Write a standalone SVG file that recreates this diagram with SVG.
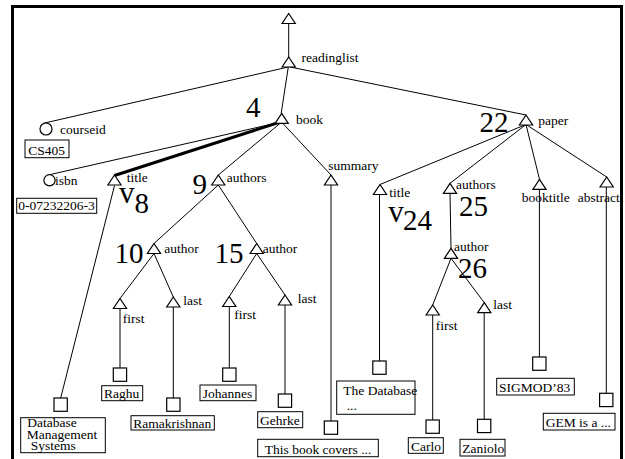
<svg xmlns="http://www.w3.org/2000/svg" xmlns:xlink="http://www.w3.org/1999/xlink" width="625" height="459" viewBox="0 0 625 459" font-family="'Liberation Serif', 'DejaVu Serif', serif">
<style>
text{font-family:'Liberation Serif','DejaVu Serif',serif;fill:#000}
.lb{font-size:13.5px}
.big{font-size:29px}
.v{font-size:31px}
.ln{stroke:#000;stroke-width:1;fill:none}
.thick{stroke:#000;stroke-width:3;fill:none}
.shape{fill:#fff;stroke:#000;stroke-width:1.2}
.box{fill:#fff;stroke:#000;stroke-width:1}
</style>
<defs>
<path id="tri" class="shape" d="M0,0 L6.6,10 L-6.6,10 Z"/>
<rect id="sq" class="shape" width="13.3" height="13.3"/>
</defs>
<rect x="0" y="0" width="625" height="459" fill="#fff"/>
<path d="M12.5,459 V6.5 H621.5 V459" fill="none" stroke="#000" stroke-width="3"/>

<g id="connectors">
<path class="ln" d="M288.7,23.5 V57"/>
<path class="ln" d="M288.3,67 L43.3,123.3"/>
<path class="ln" d="M288.3,67 L281.2,113.3"/>
<path class="ln" d="M290,67 L526,115"/>
<path class="ln" d="M279,122.5 L50,174.6"/>
<path class="thick" d="M281,121.8 L114.5,175.5"/>
<path class="ln" d="M280.5,123 L218.3,175"/>
<path class="ln" d="M282.5,123 L331,175"/>
<path class="ln" d="M526,124.5 L380,184.5"/>
<path class="ln" d="M526,124.5 L450,183.3"/>
<path class="ln" d="M526,124.5 L539.5,179.3"/>
<path class="ln" d="M526,124.5 L606.7,177"/>
<path class="ln" d="M218.3,185 L154,243.5"/>
<path class="ln" d="M218.3,185 L256.7,243.5"/>
<path class="ln" d="M154,253.5 L120,298.5"/>
<path class="ln" d="M154,253.5 L173.3,297"/>
<path class="ln" d="M256.7,253.5 L229.3,296.5"/>
<path class="ln" d="M256.7,253.5 L285,295"/>
<path class="ln" d="M450,193.3 L451,248.3"/>
<path class="ln" d="M451,258.3 L432.7,305"/>
<path class="ln" d="M451,258.3 L484.3,302.7"/>
<path class="ln" d="M114.5,185.5 L60.7,398"/>
<path class="ln" d="M120,308.5 V368"/>
<path class="ln" d="M173.3,307 V398"/>
<path class="ln" d="M229.3,306.5 V368"/>
<path class="ln" d="M285,305 V394"/>
<path class="ln" d="M331,185 V421"/>
<path class="ln" d="M379.5,194.5 V361"/>
<path class="ln" d="M432.7,315 V420"/>
<path class="ln" d="M484.2,312.7 V419.3"/>
<path class="ln" d="M539.4,189.3 V357"/>
<path class="ln" d="M606.3,187 V393.3"/>
</g>

<g id="root"><use xlink:href="#tri" x="288.7" y="13.5"/></g>
<g id="readinglist"><use xlink:href="#tri" x="288.7" y="57"/><text class="lb" x="301.5" y="61.7">readinglist</text></g>
<g id="courseid"><circle class="shape" cx="46" cy="129" r="6"/><text class="lb" x="60" y="134">courseid</text></g>
<g id="cs405"><rect class="box" x="25" y="140" width="44" height="17.7"/><text class="lb" x="28.3" y="155">CS405</text></g>
<g id="book"><use xlink:href="#tri" x="281.7" y="113.3"/><text class="lb" x="296" y="124.3">book</text><text class="big" x="246" y="117">4</text></g>
<g id="isbn"><circle class="shape" cx="49.5" cy="180.3" r="5.6"/><text class="lb" x="55" y="185">isbn</text></g>
<g id="isbnval"><rect class="box" x="16.7" y="198.3" width="80" height="15"/><text class="lb" x="18.3" y="210">0-07232206-3</text></g>
<g id="title8"><use xlink:href="#tri" x="114.5" y="175"/><text class="lb" x="126.7" y="181.5">title</text><text class="v" x="119" y="203.3">v</text><text class="big" x="134.5" y="213.3">8</text></g>
<g id="authors9"><use xlink:href="#tri" x="218.3" y="175"/><text class="lb" x="226.7" y="182.3">authors</text><text class="big" x="192.5" y="193.5">9</text></g>
<g id="summary"><use xlink:href="#tri" x="331" y="175"/><text class="lb" x="328.3" y="170">summary</text></g>
<g id="paper"><use xlink:href="#tri" x="526" y="115"/><text class="lb" x="538.3" y="125">paper</text><text class="big" x="479.5" y="131.7">22</text></g>
<g id="title24"><use xlink:href="#tri" x="380" y="184.5"/><text class="lb" x="389.3" y="197">title</text><text class="v" x="388.3" y="221.7">v</text><text class="big" x="403" y="230">24</text></g>
<g id="authors25"><use xlink:href="#tri" x="450" y="183.3"/><text class="lb" x="456" y="189.3">authors</text><text class="big" x="459" y="215.7">25</text></g>
<g id="booktitle"><use xlink:href="#tri" x="539.5" y="179.3"/><text class="lb" x="521.7" y="202.3">booktitle</text></g>
<g id="abstract"><use xlink:href="#tri" x="606.7" y="177"/><text class="lb" x="577.7" y="202.3">abstract</text></g>
<g id="author10"><use xlink:href="#tri" x="154" y="243.5"/><text class="lb" x="164.3" y="253.3">author</text><text class="big" x="114.5" y="263.3">10</text></g>
<g id="author15"><use xlink:href="#tri" x="256.7" y="243.5"/><text class="lb" x="262.7" y="253.3">author</text><text class="big" x="214.5" y="263.3">15</text></g>
<g id="author26"><use xlink:href="#tri" x="451" y="248.3"/><text class="lb" x="454" y="250.7">author</text><text class="big" x="458" y="278.3">26</text></g>
<g id="first10"><use xlink:href="#tri" x="120" y="298.5"/><text class="lb" x="122.7" y="323.3">first</text></g>
<g id="last10"><use xlink:href="#tri" x="173.3" y="297"/><text class="lb" x="183.3" y="305">last</text></g>
<g id="first15"><use xlink:href="#tri" x="229.3" y="296.5"/><text class="lb" x="234.3" y="319.3">first</text></g>
<g id="last15"><use xlink:href="#tri" x="285" y="295"/><text class="lb" x="297.7" y="303.3">last</text></g>
<g id="first26"><use xlink:href="#tri" x="432.7" y="305"/><text class="lb" x="435.7" y="330">first</text></g>
<g id="last26"><use xlink:href="#tri" x="484.3" y="302.7"/><text class="lb" x="493.3" y="309.3">last</text></g>

<g id="dbms"><use xlink:href="#sq" x="54" y="398"/><rect class="box" x="20.7" y="417.7" width="84.6" height="35"/><text class="lb" x="27.3" y="427">Database</text><text class="lb" x="26.7" y="438.5">Management</text><text class="lb" x="30.7" y="450">Systems</text></g>
<g id="raghu"><use xlink:href="#sq" x="113.3" y="368"/><rect class="box" x="101.7" y="385.7" width="41" height="15"/><text class="lb" x="104" y="398.3">Raghu</text></g>
<g id="ramakrishnan"><use xlink:href="#sq" x="166.7" y="398"/><rect class="box" x="131" y="415.7" width="83.3" height="14.3"/><text class="lb" x="133.3" y="427.7">Ramakrishnan</text></g>
<g id="johannes"><use xlink:href="#sq" x="222.7" y="368"/><rect class="box" x="200" y="385" width="56" height="15.7"/><text class="lb" x="202.7" y="398.3">Johannes</text></g>
<g id="gehrke"><use xlink:href="#sq" x="278.3" y="394"/><rect class="box" x="257.7" y="411.7" width="45" height="16"/><text class="lb" x="260" y="425">Gehrke</text></g>
<g id="summaryval"><use xlink:href="#sq" x="324.3" y="421"/><rect class="box" x="257.7" y="439.3" width="120.6" height="17.4"/><text class="lb" x="264.8" y="454">This book covers ...</text></g>
<g id="titleval"><use xlink:href="#sq" x="372.8" y="361"/><rect class="box" x="336.7" y="381" width="78.3" height="33.3"/><text class="lb" x="343.3" y="395">The Database</text><text class="lb" x="346.7" y="410">...</text></g>
<g id="carlo"><use xlink:href="#sq" x="426" y="420"/><rect class="box" x="408.3" y="437.7" width="35" height="15.6"/><text class="lb" x="411" y="451">Carlo</text></g>
<g id="zaniolo"><use xlink:href="#sq" x="477.5" y="419.3"/><rect class="box" x="460" y="439.3" width="45" height="16.7"/><text class="lb" x="462.3" y="453.3">Zaniolo</text></g>
<g id="sigmod"><use xlink:href="#sq" x="532.7" y="357"/><rect class="box" x="496.7" y="378.3" width="77.6" height="16.7"/><text class="lb" x="499" y="392.3">SIGMOD’83</text></g>
<g id="gem"><use xlink:href="#sq" x="599.6" y="393.3"/><rect class="box" x="543.3" y="413.3" width="71.7" height="16.7"/><text class="lb" x="545.7" y="426.7">GEM is a ...</text></g>
</svg>
